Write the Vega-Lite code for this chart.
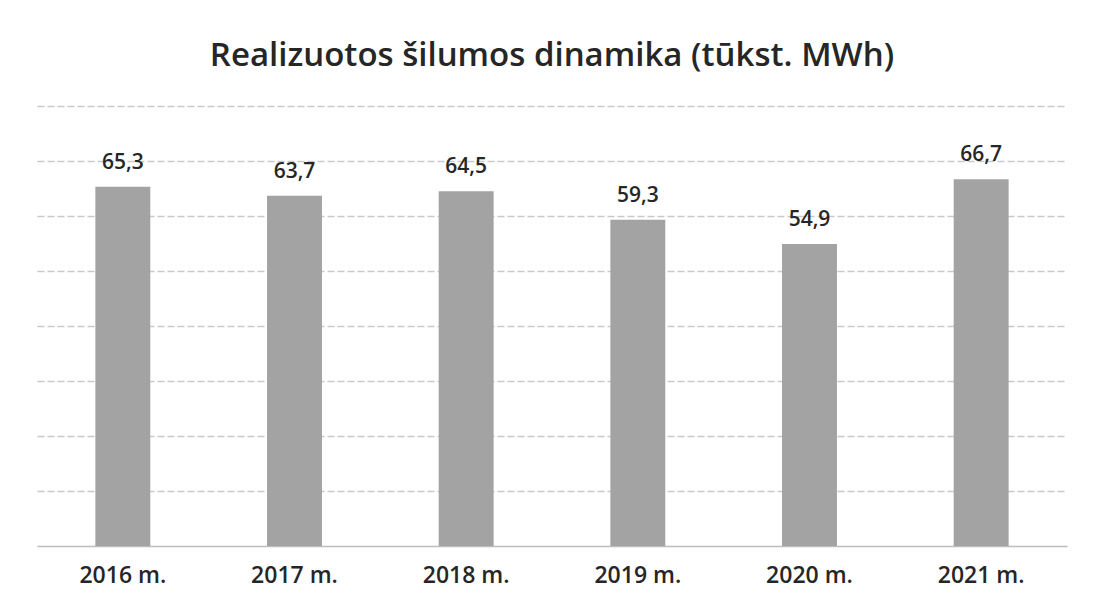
{
  "$schema": "https://vega.github.io/schema/vega-lite/v6.json",
  "width": 1030,
  "height": 440,
  "autosize": "none",
  "padding": {"left": 37, "top": 106, "right": 26, "bottom": 61},
  "background": "white",
  "title": {
    "text": "Realizuotos šilumos dinamika (tūkst. MWh)",
    "font": "Open Sans",
    "fontSize": 33,
    "fontWeight": 600,
    "color": "#262626",
    "anchor": "middle",
    "offset": 33
  },
  "data": {
    "values": [
      {"metai": "2016 m.", "reiksme": 65.3, "zyma": "65,3"},
      {"metai": "2017 m.", "reiksme": 63.7, "zyma": "63,7"},
      {"metai": "2018 m.", "reiksme": 64.5, "zyma": "64,5"},
      {"metai": "2019 m.", "reiksme": 59.3, "zyma": "59,3"},
      {"metai": "2020 m.", "reiksme": 54.9, "zyma": "54,9"},
      {"metai": "2021 m.", "reiksme": 66.7, "zyma": "66,7"}
    ]
  },
  "encoding": {
    "x": {
      "field": "metai",
      "type": "nominal",
      "sort": null,
      "scale": {"paddingInner": 0.68, "paddingOuter": 0.34},
      "axis": {
        "title": null,
        "labelAngle": 0,
        "labelFont": "Open Sans",
        "labelFontSize": 23,
        "labelFontWeight": 600,
        "labelColor": "#262626",
        "labelPadding": 18,
        "ticks": false,
        "domainColor": "#bdbdbd",
        "domainWidth": 1.5
      }
    },
    "y": {
      "field": "reiksme",
      "type": "quantitative",
      "scale": {"domain": [0, 80]},
      "axis": {
        "title": null,
        "labels": false,
        "ticks": false,
        "domain": false,
        "values": [10, 20, 30, 40, 50, 60, 70, 80],
        "gridColor": "#c9c9c9",
        "gridWidth": 1.5,
        "gridDash": [7, 3]
      }
    }
  },
  "layer": [
    {"mark": {"type": "bar", "color": "#a3a3a3"}},
    {
      "mark": {
        "type": "text",
        "baseline": "bottom",
        "dy": -14,
        "font": "Open Sans",
        "fontSize": 21,
        "fontWeight": 600,
        "color": "#262626"
      },
      "encoding": {"text": {"field": "zyma"}}
    }
  ],
  "config": {"view": {"stroke": null}}
}
